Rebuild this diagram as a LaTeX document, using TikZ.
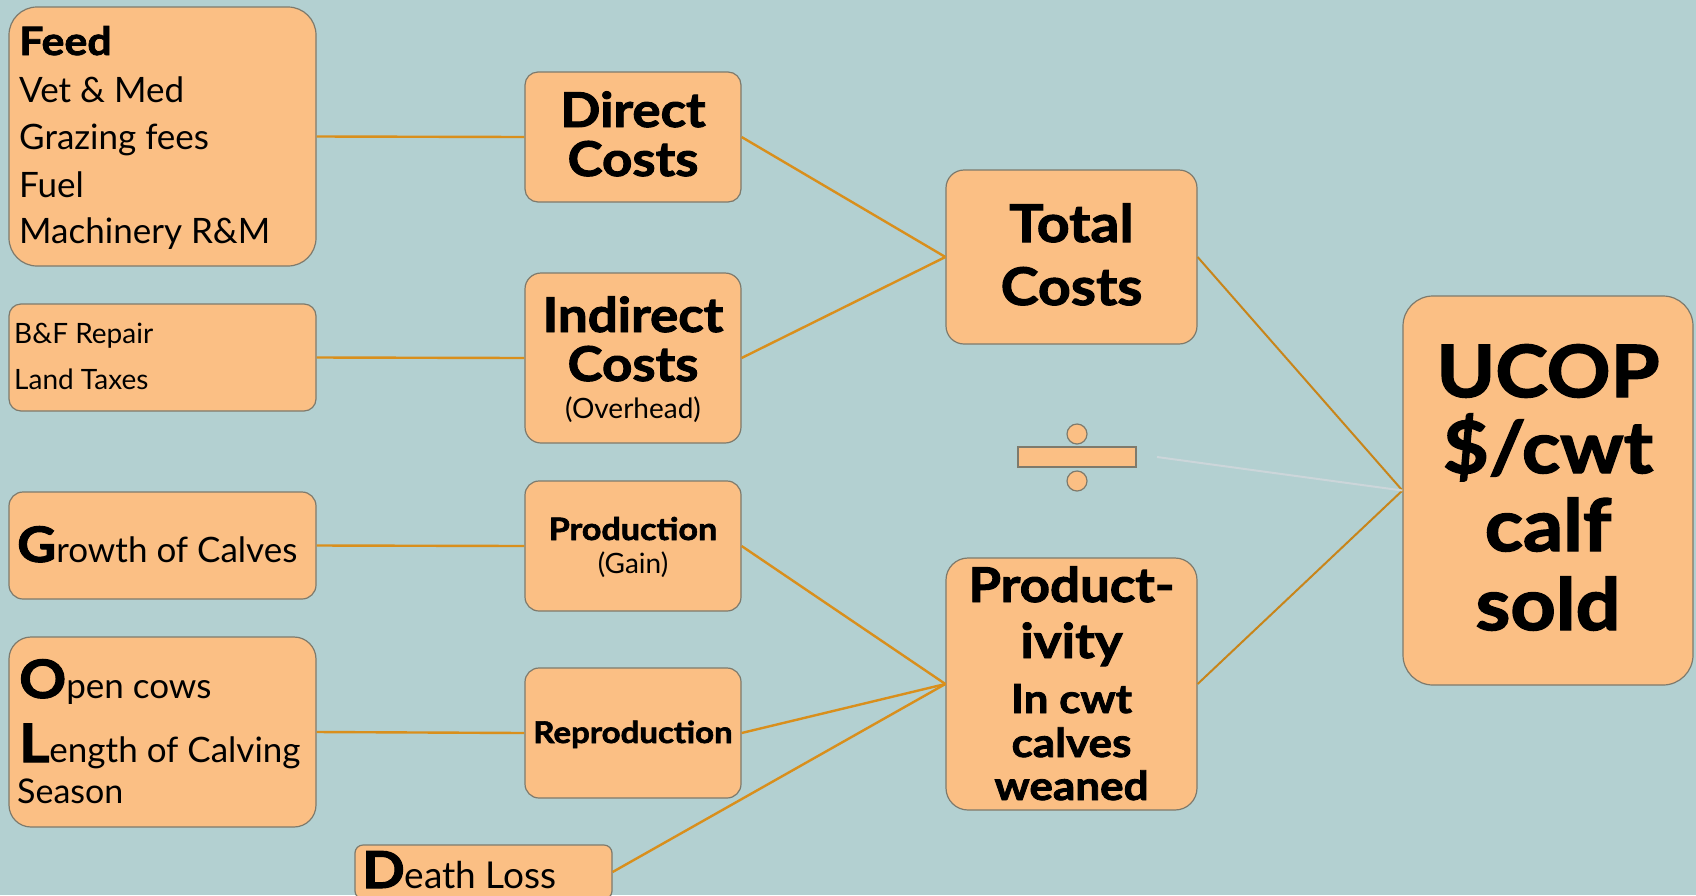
\documentclass[tikz,border=0pt]{standalone}
\usepackage{fontspec}
\setmainfont{Lato}[BoldFeatures={FakeBold=2,FakeStretch=1.1}]
\definecolor{bg}{HTML}{B3D0D1}
\definecolor{boxfill}{HTML}{FBBF84}
\definecolor{boxline}{HTML}{7E7A6C}
\definecolor{conncol}{HTML}{D98F1C}
\definecolor{conndark}{HTML}{C8851A}
\definecolor{greyline}{HTML}{CCD6DA}
\newcommand{\myfs}[1]{\fontsize{#1}{#1}\selectfont}
\begin{document}
\begin{tikzpicture}[x=1pt,y=-1pt,
  box/.style={draw=boxline, line width=1.2pt, fill=boxfill, rounded corners=#1, inner sep=0pt},
  box/.default=14pt,
  conn/.style={draw=conncol, line width=2.4pt},
  conn2/.style={draw=conndark, line width=2pt},
  lt/.style={anchor=base west, inner sep=0pt, text=black},
  ct/.style={anchor=base, inner sep=0pt, text=black, font=\bfseries}]
\fill[bg] (0,0) rectangle (1696,895);
\useasboundingbox (0,0) rectangle (1696,895);

% boxes
\node[box=28pt, minimum width=307pt, minimum height=259pt] (feed) at (162.5,136.5) {};
\node[box=12pt, minimum width=307pt, minimum height=107pt] (bf) at (162.5,357.5) {};
\node[box=14pt, minimum width=307pt, minimum height=107pt] (growth) at (162.5,545.5) {};
\node[box=22pt, minimum width=307pt, minimum height=190pt] (open) at (162.5,732) {};
\node[box=8pt, minimum width=257pt, minimum height=54pt] (death) at (483.5,872) {};
\node[box=13pt, minimum width=216pt, minimum height=130pt] (direct) at (633,137) {};
\node[box=16pt, minimum width=216pt, minimum height=170pt] (indirect) at (633,358) {};
\node[box=14pt, minimum width=216pt, minimum height=130pt] (production) at (633,546) {};
\node[box=14pt, minimum width=216pt, minimum height=130pt] (repro) at (633,733) {};
\node[box=18pt, minimum width=251pt, minimum height=174pt] (total) at (1071.5,257) {};
\node[box=22pt, minimum width=251pt, minimum height=252pt] (prodty) at (1071.5,684) {};
\node[box=30pt, minimum width=290pt, minimum height=389pt] (ucop) at (1548,490.5) {};

% division sign
\node[draw=boxline, line width=1.2pt, fill=boxfill, circle, minimum size=20pt, inner sep=0pt] (dtop) at (1077,434) {};
\node[draw=boxline, line width=1.2pt, fill=boxfill, circle, minimum size=20pt, inner sep=0pt] (dbot) at (1077,481) {};
\node[draw=boxline, line width=1.2pt, fill=boxfill, rectangle, minimum width=118pt, minimum height=20pt, inner sep=0pt] (dbar) at (1077,457) {};
\coordinate (gstart) at (1157,457);

% connectors
\draw[conn] (feed.east) -- (direct.west);
\draw[conn] (bf.east) -- (indirect.west);
\draw[conn] (growth.east) -- (production.west);
\draw[conn] (open.east) -- (repro.west);
\draw[conn] (direct.east) -- (total.west);
\draw[conn] (indirect.east) -- (total.west);
\draw[conn] (production.east) -- (prodty.west);
\draw[conn] (repro.east) -- (prodty.west);
\draw[conn] (death.east) -- (prodty.west);
\draw[conn2] (total.east) -- (ucop.west);
\draw[conn2] (prodty.east) -- (ucop.west);
\draw[draw=greyline, line width=2pt] (gstart) -- (ucop.west);

% texts left column
\node[lt, font=\bfseries\myfs{39}] (t1) at (19,55) {Feed};
\node[lt, font=\myfs{35}] (t2) at (19,102) {Vet \& Med};
\node[lt, font=\myfs{35}] (t3) at (19,149) {Grazing fees};
\node[lt, font=\myfs{35}] (t4) at (19,197) {Fuel};
\node[lt, font=\myfs{35}] (t5) at (19,243) {Machinery R\&M};
\node[lt, font=\myfs{28}] (t6) at (14,343) {B\&F Repair};
\node[lt, font=\myfs{28}] (t7) at (14,389) {Land Taxes};
\node[lt] (t8) at (17,562) {\bfseries\myfs{49}G\mdseries\myfs{35}rowth of Calves};
\node[lt] (t9) at (19,698) {\bfseries\myfs{53}O\mdseries\myfs{35}pen cows};
\node[lt] (t10) at (19,762) {\bfseries\myfs{53}L\mdseries\myfs{35}ength of Calving};
\node[lt, font=\myfs{34}] (t11) at (17,803) {Season};
\node[lt] (t12) at (362,888) {\bfseries\myfs{51}D\mdseries\myfs{37}eath Loss};

% middle column
\node[ct, font=\bfseries\myfs{48}] (t13) at (633,127) {Direct};
\node[ct, font=\bfseries\myfs{48}] (t14) at (633,176) {Costs};
\node[ct, font=\bfseries\myfs{48}] (t15) at (633,332) {Indirect};
\node[ct, font=\bfseries\myfs{48}] (t16) at (633,381) {Costs};
\node[ct, font=\mdseries\myfs{28}] (t17) at (633,418) {(Overhead)};
\node[ct, font=\bfseries\myfs{31}] (t18) at (633,540) {Production};
\node[ct, font=\mdseries\myfs{28}] (t19) at (633,573) {(Gain)};
\node[ct, font=\bfseries\myfs{30}] (t20) at (633,743) {Reproduction};

% right columns
\node[ct, font=\bfseries\myfs{52}] (t21) at (1071.5,242) {Total};
\node[ct, font=\bfseries\myfs{52}] (t22) at (1071.5,305) {Costs};
\node[ct, font=\bfseries\myfs{48}] (t23) at (1071.5,602) {Product-};
\node[ct, font=\bfseries\myfs{48}] (t24) at (1071.5,658) {ivity};
\node[ct, font=\bfseries\myfs{40}] (t25) at (1071.5,713) {In cwt};
\node[ct, font=\bfseries\myfs{40}] (t26) at (1071.5,757) {calves};
\node[ct, font=\bfseries\myfs{40}] (t27) at (1071.5,800) {weaned};
\node[ct, font=\bfseries\myfs{72}] (t28) at (1548,397) {UCOP};
\node[ct, font=\bfseries\myfs{72}] (t29) at (1548,473) {\$/cwt};
\node[ct, font=\bfseries\myfs{72}] (t30) at (1548,551) {calf};
\node[ct, font=\bfseries\myfs{72}] (t31) at (1548,630) {sold};
\end{tikzpicture}
\end{document}
